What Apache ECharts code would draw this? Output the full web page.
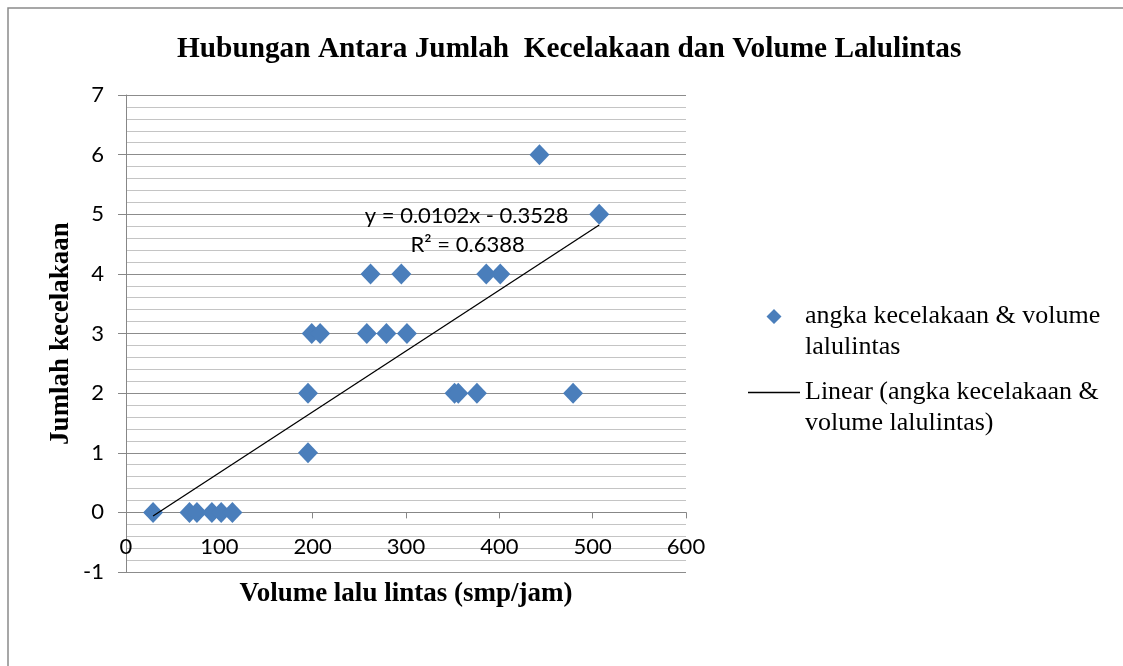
<!DOCTYPE html>
<html>
<head>
<meta charset="utf-8">
<script src="https://cdn.jsdelivr.net/npm/echarts@6/dist/echarts.min.js"></script>
<style>html,body{margin:0;padding:0;background:#fff}#c{width:1123px;height:666px}</style>
</head>
<body>
<div id="c"></div>
<script>
// ---- data ----
const chartTitle = 'Hubungan Antara Jumlah  Kecelakaan dan Volume Lalulintas';
const xAxisName = 'Volume lalu lintas (smp/jam)';
const yAxisName = 'Jumlah kecelakaan';
const seriesName = 'angka kecelakaan & volume lalulintas';
const trendName = 'Linear (angka kecelakaan & volume lalulintas)';
const legendLines = {
  [seriesName]: ['angka kecelakaan & volume', 'lalulintas'],
  [trendName]: ['Linear (angka kecelakaan &', 'volume lalulintas)']
};
const volume    = [29, 68, 76, 92, 102, 114, 195, 195, 352, 356, 376, 479, 199, 208, 258, 279, 301, 262, 295, 386, 401, 507, 443];
const accidents = [0,  0,  0,  0,  0,   0,   1,   2,   2,   2,   2,   2,   3,   3,   3,   3,   3,   4,   4,   4,   4,   5,   6];
const trendX = [29, 507];
const trendY = [-0.06, 4.82];
const equationText = 'y = 0.0102x - 0.3528';
const r2Text = 'R² = 0.6388';
const equationPos = [365, 4.98];
const r2Pos = [366, 4.48];
const xMin = 0, xMax = 600, xStep = 100;
const yMin = -1, yMax = 7, yStep = 1;

const scatterData = volume.map((v, i) => [v, accidents[i]]);
const trendData = trendX.map((v, i) => [v, trendY[i]]);

const el = document.getElementById('c');
const chart = echarts.init(el, null, {renderer: 'canvas'});
const axisGray = '#878787';
const sansFont = 'Lato, "Open Sans", sans-serif';
const serifFont = '"Liberation Serif", "DejaVu Serif", serif';

const gridTop = 95, gridBottom = 94;
const gridH = el.clientHeight - gridTop - gridBottom;
// x axis crosses the value axis at y = 0
const xAxisOffset = -gridH * (0 - yMin) / (yMax - yMin);

chart.setOption({
  animation: false,
  backgroundColor: '#fff',
  title: {
    text: chartTitle,
    left: 177,
    top: 35,
    padding: 0,
    textStyle: {fontFamily: serifFont, fontWeight: 'bold', fontSize: 29.3, color: '#000'}
  },
  graphic: [{
    type: 'rect',
    shape: {x: 8, y: 8, width: 1200, height: 700},
    style: {fill: 'none', stroke: '#8a8a8a', lineWidth: 1.5},
    silent: true,
    z: -1
  }],
  grid: {left: 126, right: 437, top: gridTop, bottom: gridBottom, containLabel: false},
  legend: {
    orient: 'vertical',
    left: 748,
    top: 270,
    padding: 0,
    itemWidth: 52,
    itemHeight: 15,
    itemGap: -17,
    selectedMode: false,
    formatter: name => '\n' + legendLines[name].join('\n'),
    textStyle: {fontFamily: serifFont, fontSize: 26, color: '#000', lineHeight: 31},
    data: [
      {name: seriesName, icon: 'path://M0,7.5L0.01,7.5ZM52,7.5L51.99,7.5ZM26,0L33.5,7.5L26,15L18.5,7.5Z'},
      {name: trendName, icon: 'path://M0,0H52V1.4H0Z'}
    ]
  },
  xAxis: {
    type: 'value',
    min: xMin, max: xMax, interval: xStep,
    offset: xAxisOffset,
    name: xAxisName,
    nameLocation: 'middle',
    nameGap: 68,
    nameTextStyle: {fontFamily: serifFont, fontWeight: 'bold', fontSize: 27, color: '#000'},
    axisLine: {show: true, onZero: false, lineStyle: {color: axisGray, width: 1}},
    axisTick: {show: true, length: 6, lineStyle: {color: axisGray}},
    axisLabel: {fontFamily: sansFont, fontSize: 22, color: '#000', margin: 24},
    splitLine: {show: false}
  },
  yAxis: {
    type: 'value',
    min: yMin, max: yMax, interval: yStep,
    name: yAxisName,
    nameLocation: 'middle',
    nameGap: 51,
    nameRotate: 90,
    nameTextStyle: {fontFamily: serifFont, fontWeight: 'bold', fontSize: 27, color: '#000'},
    axisLine: {show: true, onZero: false, lineStyle: {color: axisGray, width: 1}},
    axisTick: {show: true, length: 8, lineStyle: {color: axisGray}},
    axisLabel: {fontFamily: sansFont, fontSize: 22, color: '#000', margin: 22},
    splitLine: {show: true, lineStyle: {color: '#8c8c8c', width: 1}},
    minorTick: {show: false, splitNumber: 5},
    minorSplitLine: {show: true, lineStyle: {color: '#c4c4c4', width: 1}}
  },
  series: [
    {
      name: seriesName,
      type: 'scatter',
      symbol: 'diamond',
      symbolSize: [20, 21],
      itemStyle: {color: '#4a7ebb', opacity: 1},
      data: scatterData,
      z: 3
    },
    {
      name: trendName,
      type: 'line',
      showSymbol: false,
      symbol: 'none',
      lineStyle: {color: '#000', width: 1.3},
      itemStyle: {color: '#000'},
      data: trendData,
      z: 4,
      markPoint: {
        symbol: 'circle',
        symbolSize: 0,
        silent: true,
        label: {show: true, position: 'inside', fontFamily: sansFont, fontSize: 22, color: '#000'},
        data: [
          {coord: equationPos, value: 0, label: {formatter: equationText}},
          {coord: r2Pos, value: 0, label: {formatter: r2Text}}
        ]
      }
    }
  ]
});
</script>
</body>
</html>
